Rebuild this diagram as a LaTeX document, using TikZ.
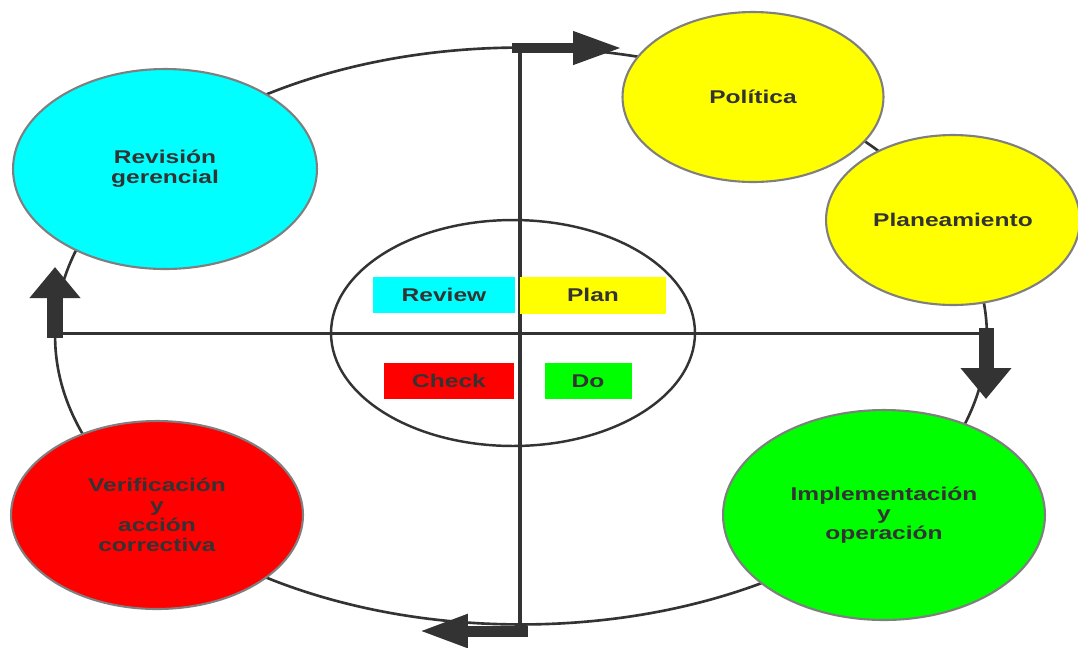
\documentclass[tikz,border=0pt]{standalone}
\usepackage{fontspec}
\setmainfont{Liberation Sans}[FakeStretch=1.33]
\usetikzlibrary{shapes.geometric,arrows.meta}

\definecolor{ink}{HTML}{333333}
\definecolor{rim}{HTML}{7F7F7F}
\definecolor{cyanfill}{HTML}{00FFFF}
\definecolor{yellowfill}{HTML}{FFFF00}
\definecolor{greenfill}{HTML}{00FF00}
\definecolor{redfill}{HTML}{FF0000}

\tikzset{
  stage/.style={ellipse, draw=rim, line width=1.2pt, inner sep=0pt, align=center,
    text=ink, font=\bfseries\fontsize{10.5}{11.3}\selectfont},
  tag/.style={rectangle, inner sep=0pt, text=ink, font=\bfseries\fontsize{10.5}{11.3}\selectfont},
  cross/.style={ink, line width=#1},
  flowarrow/.style={ink, line width=#1}
}

\begin{document}
\begin{tikzpicture}[x=0.02cm,y=-0.02cm]
  \useasboundingbox (0,0) rectangle (1078,647);

  % outer cycle and inner circle
  \draw (521,336) node[ellipse, draw=ink, line width=1.5pt, minimum width=18.64cm, minimum height=11.54cm] (cycle) {};
  \coordinate (crossN) at (520,53);
  \coordinate (crossS) at (520,626);
  \coordinate (crossW) at (63,333);
  \coordinate (crossE) at (979,333);
  \draw[cross=2.1pt] (crossN) -- (crossS);
  \draw[cross=1.7pt] (crossW) -- (crossE);
  \draw (513,333) node[ellipse, draw=ink, line width=1.4pt, minimum width=7.28cm, minimum height=4.52cm] (core) {};

  % stages
  \draw (165,169) node[stage, fill=cyanfill, minimum width=6.08cm, minimum height=4cm] (revision) {Revisión\\gerencial};
  \draw (753,97) node[stage, fill=yellowfill, minimum width=5.22cm, minimum height=3.4cm] (politica) {Política};
  \draw (953,220) node[stage, fill=yellowfill, minimum width=5.08cm, minimum height=3.4cm] (planeamiento) {Planeamiento};
  \draw (884,515) node[stage, fill=greenfill, minimum width=6.44cm, minimum height=4.2cm] (implementacion) {Implementación\\y\\operación};
  \draw (157,515) node[stage, fill=redfill, minimum width=5.84cm, minimum height=3.76cm] (verificacion) {Verificación\\y\\acción\\correctiva};

  % quadrant tags
  \draw (444,295) node[tag, fill=cyanfill, minimum width=2.84cm, minimum height=0.72cm] (review) {Review};
  \draw (593,295) node[tag, fill=yellowfill, minimum width=2.92cm, minimum height=0.74cm] (plan) {Plan};
  \draw (449,381) node[tag, fill=redfill, minimum width=2.6cm, minimum height=0.72cm] (check) {Check};
  \draw (588,381) node[tag, fill=greenfill, minimum width=1.74cm, minimum height=0.72cm] (do) {Do};

  % block arrows
  \coordinate (topA) at (512,48);
  \coordinate (topB) at (622,48);
  \coordinate (rightA) at (986,328);
  \coordinate (rightB) at (986,399);
  \coordinate (bottomA) at (528,631);
  \coordinate (bottomB) at (419,631);
  \coordinate (leftA) at (55,338);
  \coordinate (leftB) at (55,267);
  \draw[flowarrow=0.2cm, -{Triangle[length=0.98cm,width=0.62cm]}] (topA) -- (topB);
  \draw[flowarrow=0.3cm, -{Triangle[length=0.62cm,width=0.98cm]}] (rightA) -- (rightB);
  \draw[flowarrow=0.22cm, -{Triangle[length=0.98cm,width=0.62cm]}] (bottomA) -- (bottomB);
  \draw[flowarrow=0.34cm, -{Triangle[length=0.62cm,width=0.98cm]}] (leftA) -- (leftB);
\end{tikzpicture}
\end{document}
